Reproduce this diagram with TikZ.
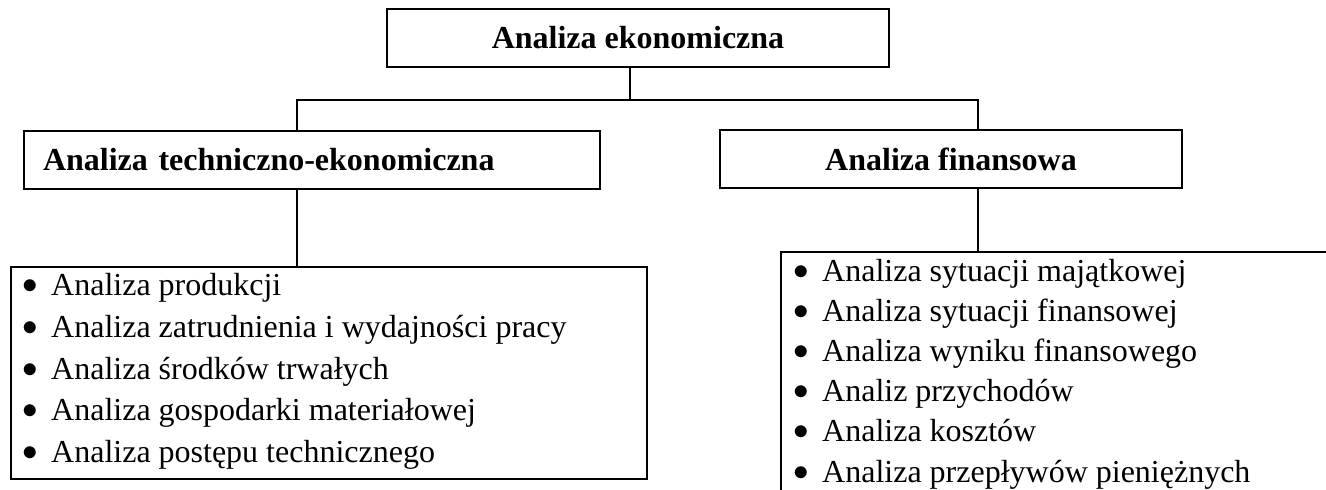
\documentclass[tikz,border=0pt]{standalone}
\usepackage{graphicx}
\usepackage{fontspec}
\setmainfont{Liberation Serif}
\newcommand{\itembullet}{\makebox[29pt][l]{\raisebox{2pt}{\scalebox{1.25}{$\bullet$}}}}
\begin{document}
\begin{tikzpicture}[x=1pt,y=-1pt,
  box/.style={draw,line width=1.6pt,rectangle,inner sep=0pt},
  title/.style={font=\fontsize{32}{38}\selectfont\bfseries},
  item/.style={anchor=base west,inner sep=0pt,font=\fontsize{32}{38}\selectfont},
  conn/.style={line width=1.6pt}]
\useasboundingbox (0,0) rectangle (1326,490);
\clip (0,0) rectangle (1326,490);
% boxes
\node[box,title,minimum width=502pt,minimum height=58pt] (top) at (638,38) {Analiza ekonomiczna};
\node[box,title,minimum width=576pt,minimum height=58pt,text width=538pt,align=left] (tm) at (312,160) {Analiza techniczno-ekonomiczna};
\node[box,title,minimum width=462pt,minimum height=58pt] (fm) at (951,159) {Analiza finansowa};
\node[box,minimum width=636pt,minimum height=212pt,anchor=north west] (tl) at (10,266) {};
\node[box,minimum width=600pt,minimum height=280pt,anchor=north west] (fr) at (780,251) {};
% list items
\node[item] (t1) at (22,295) {\itembullet Analiza produkcji};
\node[item] (t2) at (22,337) {\itembullet Analiza zatrudnienia i wydajności pracy};
\node[item] (t3) at (22,379) {\itembullet Analiza środków trwałych};
\node[item] (t4) at (22,420) {\itembullet Analiza gospodarki materiałowej};
\node[item] (t5) at (22,462) {\itembullet Analiza postępu technicznego};
\node[item] (f1) at (793,281) {\itembullet Analiza sytuacji majątkowej};
\node[item] (f2) at (793,321) {\itembullet Analiza sytuacji finansowej};
\node[item] (f3) at (793,361) {\itembullet Analiza wyniku finansowego};
\node[item] (f4) at (793,401) {\itembullet Analiz przychodów};
\node[item] (f5) at (793,441) {\itembullet Analiza kosztów};
\node[item] (f6) at (793,482) {\itembullet Analiza przepływów pieniężnych};
% connectors
\coordinate (bus) at (630,100);
\coordinate (xl) at (297,0);
\coordinate (xr) at (978,0);
\draw[conn] (top.south -| bus) -- (bus);
\draw[conn] (tm.north -| xl) -- (bus -| xl) -- (bus -| xr) -- (fm.north -| xr);
\draw[conn] (tm.south -| xl) -- (tl.north -| xl);
\draw[conn] (fm.south -| xr) -- (fr.north -| xr);
\end{tikzpicture}
\end{document}
